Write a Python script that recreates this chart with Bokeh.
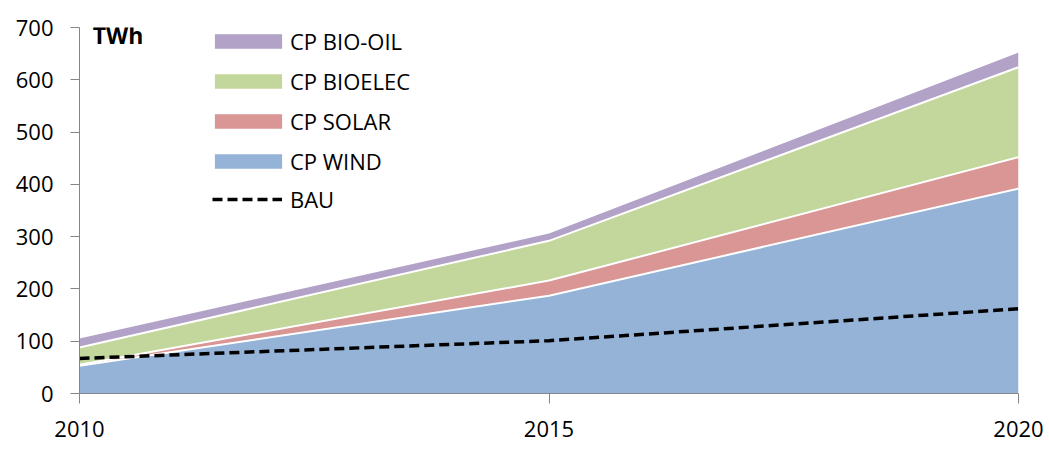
from bokeh.plotting import figure
from bokeh.models import (ColumnDataSource, Range1d, FixedTicker, Legend, LegendItem, Label)
from bokeh.embed import file_html
from bokeh.resources import INLINE
import numpy as np

years = [2010, 2015, 2020]
wind = [53, 187, 392]
solar = [2, 29, 60]
bioelec = [33, 76, 172]
biooil = [17, 14, 28]
bau = [67, 101, 162]
y_ticks = [0, 100, 200, 300, 400, 500, 600, 700]

series_names = ["wind", "solar", "bioelec", "biooil"]
labels = {"wind": "CP WIND", "solar": "CP SOLAR", "bioelec": "CP BIOELEC", "biooil": "CP BIO-OIL"}
colors = {"wind": "#95B3D7", "solar": "#D99694", "bioelec": "#C3D69B", "biooil": "#B3A2C7"}

data = dict(year=years, wind=wind, solar=solar, bioelec=bioelec, biooil=biooil, bau=bau)
c1 = np.array(wind)
c2 = c1 + np.array(solar)
c3 = c2 + np.array(bioelec)
data["c1"] = list(c1)
data["c2"] = list(c2)
data["c3"] = list(c3)
src = ColumnDataSource(data)

FONT = "Open Sans"

p = figure(width=1049, height=451, output_backend="svg", toolbar_location=None,
           x_range=Range1d(2010, 2020), y_range=Range1d(0, 700),
           min_border_left=79, min_border_right=31, min_border_top=27, min_border_bottom=58)
p.outline_line_color = None
p.xgrid.grid_line_color = None
p.ygrid.grid_line_color = None
p.background_fill_color = "white"
p.border_fill_color = "white"

areas = p.varea_stack(stackers=series_names, x="year", source=src,
                      color=[colors[s] for s in series_names])
for c in ["c1", "c2", "c3"]:
    p.line("year", c, source=src, line_color="white", line_width=2)

bau_r = p.line("year", "bau", source=src, line_color="black", line_width=3.5, line_dash="10 5")

rmap = dict(zip(series_names, areas))
items = [LegendItem(label=labels[s], renderers=[rmap[s]]) for s in ["biooil", "bioelec", "solar", "wind"]]
common = dict(padding=0, margin=0, border_line_color=None, background_fill_alpha=0,
              label_text_font=FONT, label_text_font_size="22px", label_text_color="#000000")
legend = Legend(items=items, location=(127, 217), glyph_width=84, glyph_height=18,
                label_height=27, spacing=10, label_standoff=0, **common)
p.add_layout(legend, "center")
legend2 = Legend(items=[LegendItem(label="BAU", renderers=[bau_r])], location=(133, 179),
                 glyph_width=70, glyph_height=18, label_height=27, label_standoff=8, **common)
p.add_layout(legend2, "center")

p.add_layout(Label(x=2010.14, y=686, text="TWh", text_font=FONT, text_font_style="bold",
                   text_font_size="23px", text_baseline="middle", text_align="left",
                   text_color="#000000"))

for ax in [p.xaxis[0], p.yaxis[0]]:
    ax.axis_line_color = "#868686"
    ax.major_tick_line_color = "#868686"
    ax.minor_tick_line_color = None
    ax.major_tick_in = 0
    ax.major_label_text_font = FONT
    ax.major_label_text_font_size = "22px"
    ax.major_label_text_color = "#000000"

p.xaxis.ticker = FixedTicker(ticks=years)
p.xaxis.major_tick_out = 10
p.xaxis.major_label_standoff = 17
p.yaxis.ticker = FixedTicker(ticks=y_ticks)
p.yaxis.major_tick_out = 9
p.yaxis.major_label_standoff = 17

open("out.html", "w").write(file_html(p, INLINE))
